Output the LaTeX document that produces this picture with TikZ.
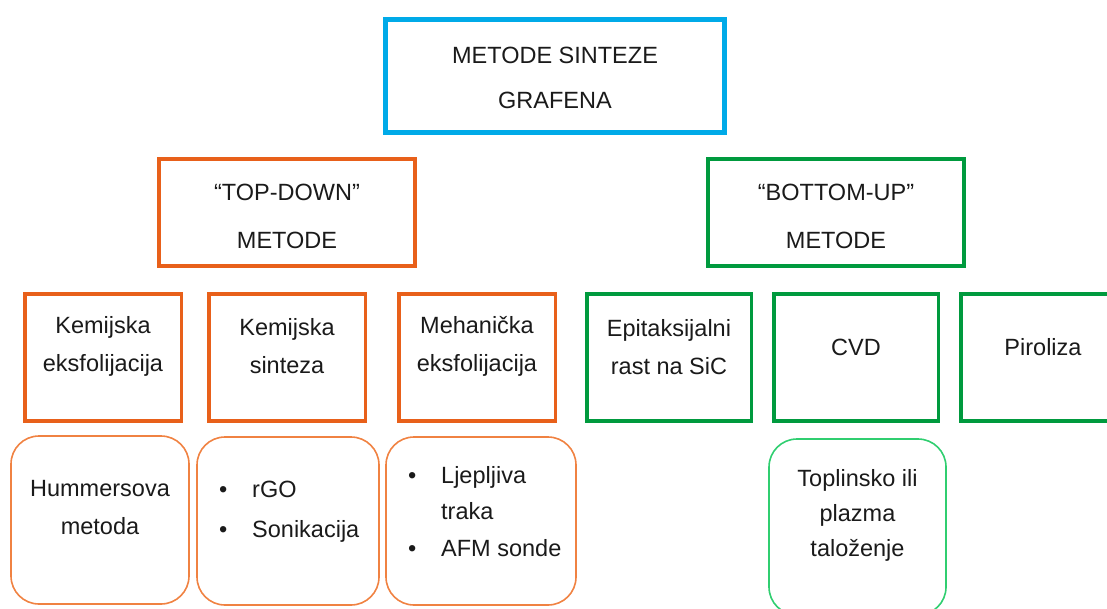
\documentclass[tikz,border=0pt]{standalone}
\usepackage{fontspec}
\setmainfont{Liberation Sans}
\usetikzlibrary{positioning}
\definecolor{topblue}{RGB}{0,170,232}
\definecolor{tdorange}{RGB}{232,96,26}
\definecolor{tdlight}{RGB}{240,130,66}
\definecolor{bugreen}{RGB}{0,154,62}
\definecolor{bulight}{RGB}{48,206,112}
\definecolor{ink}{RGB}{26,26,26}

\tikzset{
  txt/.style={font=\fontsize{23.5}{38}\selectfont, text=ink, align=center, inner sep=0pt},
  mainbox/.style={draw=topblue, line width=5pt, minimum width=339pt, minimum height=113pt},
  groupbox/.style={draw=#1, line width=4pt, minimum width=256pt, minimum height=107pt},
  methodbox/.style={draw=#1, line width=3.5pt, minimum width=157pt, minimum height=127pt},
  detailbox/.style={draw=#1, line width=1.6pt, rounded corners=28pt, minimum height=168pt},
}
\newcommand{\bul}{\makebox[33pt][l]{\textbullet}}

\begin{document}
\begin{tikzpicture}[x=1pt,y=-1pt]
  \useasboundingbox (0,0) rectangle (1107,608);
  \clip (0,0) rectangle (1107,608);

  % glavni naslov
  \node[mainbox] (sinteza) at (555,76) {};
  \node[txt, font=\fontsize{23.5}{45}\selectfont] (sinteza-t) at ([yshift=-2pt]sinteza.center) {METODE SINTEZE\\GRAFENA};

  % dvije skupine
  \node[groupbox=tdorange] (topdown) at (287,212.5) {};
  \node[groupbox=bugreen] (bottomup) at (836,212.5) {};
  \node[txt, font=\fontsize{23.5}{48}\selectfont] (topdown-t) at ([yshift=-4pt]topdown.center) {“TOP-DOWN”\\METODE};
  \node[txt, font=\fontsize{23.5}{48}\selectfont] (bottomup-t) at ([yshift=-4pt]bottomup.center) {“BOTTOM-UP”\\METODE};

  % metode
  \node[methodbox=tdorange, minimum width=156.5pt] (kemeks) at (103,357.5) {};
  \node[methodbox=tdorange, minimum width=156.5pt] (kemsint) at (287,357.5) {};
  \node[methodbox=tdorange, minimum width=156.5pt] (meheks) at (477,357.5) {};
  \node[methodbox=bugreen, minimum width=164.5pt] (epitaks) at (669,357.5) {};
  \node[methodbox=bugreen, minimum width=164.5pt] (cvd) at (856,357.5) {};
  \node[methodbox=bugreen, minimum width=164.5pt] (piroliza) at (1043,357.5) {};

  \node[txt] (kemeks-t) at ([yshift=11pt]kemeks.center) {Kemijska\\eksfolijacija};
  \node[txt] (kemsint-t) at ([yshift=11pt]kemsint.center) {Kemijska\\sinteza};
  \node[txt] (meheks-t) at ([yshift=11pt]meheks.center) {Mehanička\\eksfolijacija};
  \node[txt] (epitaks-t) at ([yshift=10pt]epitaks.center) {Epitaksijalni\\rast na SiC};
  \node[txt] (cvd-t) at ([yshift=10pt]cvd.center) {CVD};
  \node[txt] (piroliza-t) at ([yshift=10pt]piroliza.center) {Piroliza};

  % detalji
  \node[detailbox=tdlight, minimum width=178pt] (hummers) at (100,520) {};
  \node[detailbox=tdlight, minimum width=182pt] (rgo) at (288,521) {};
  \node[detailbox=tdlight, minimum width=190pt] (afm) at (481,521) {};
  \node[detailbox=bulight, minimum width=177pt, minimum height=176pt] (plazma) at (857.5,527) {};

  \node[txt] (hummers-t) at ([yshift=12pt]hummers.center) {Hummersova\\metoda};
  \node[txt, align=left, anchor=west, font=\fontsize{23.5}{40}\selectfont] (rgo-t) at (219,512) {\bul rGO\\\bul Sonikacija};
  \node[txt, align=left, anchor=west, font=\fontsize{23.5}{36.5}\selectfont] (afm-t) at (408,511.5) {\bul Ljepljiva\\\makebox[33pt]{}traka\\\bul AFM sonde};
  \node[txt, font=\fontsize{23.5}{35}\selectfont] (plazma-t) at (857.5,515) {Toplinsko ili\\plazma\\taloženje};
\end{tikzpicture}
\end{document}
